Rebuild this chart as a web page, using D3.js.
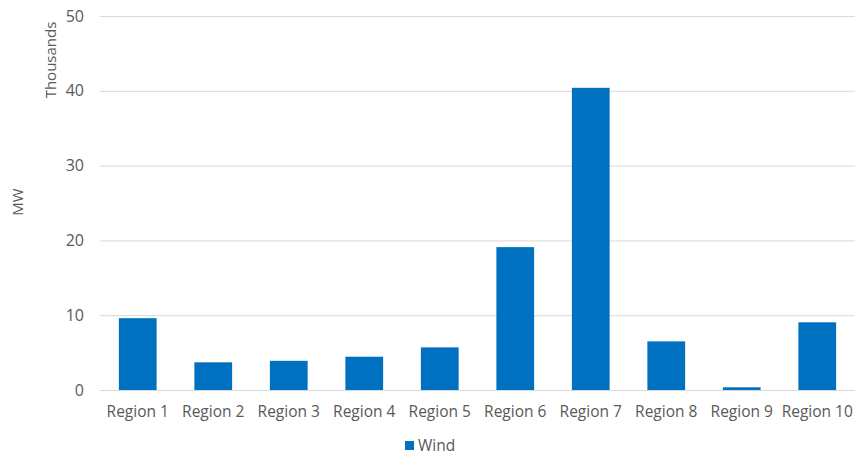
<!DOCTYPE html>
<html><head><meta charset="utf-8">
<script src="https://cdn.jsdelivr.net/npm/d3@7"></script>
<style>body{margin:0;background:#fff}svg{display:block}text{font-family:"Open Sans",sans-serif;fill:#595959}</style>
</head><body><svg id="c" width="855" height="455"></svg>
<script>
const categories = ["Region 1","Region 2","Region 3","Region 4","Region 5","Region 6","Region 7","Region 8","Region 9","Region 10"];
const windValues = [9.6, 3.7, 3.9, 4.45, 5.7, 19.1, 40.4, 6.5, 0.36, 9.05];
const yTicks = [0,10,20,30,40,50];
const seriesName = "Wind";

const svg = d3.select("#c");
const m = {left:100, right:0, top:16, bottom:65};
const W = 855, H = 455;
const x = d3.scaleBand().domain(categories).range([m.left, W - m.right]).paddingInner(0.5).paddingOuter(0.25);
const y = d3.scaleLinear().domain([0,50]).range([390, 16]);

const gy = svg.append("g").attr("transform",`translate(${m.left},0)`)
  .call(d3.axisLeft(y).tickValues(yTicks).tickSize(-(W-m.left-m.right)).tickPadding(16).tickFormat(d3.format("d")));
gy.select(".domain").remove();
gy.selectAll(".tick line").attr("stroke","#d9d9d9").attr("stroke-width",1);
gy.selectAll(".tick text").style("font-size","16px").attr("fill","#595959");

svg.append("g").selectAll("rect").data(windValues).join("rect")
  .attr("x",(d,i)=>x(categories[i]))
  .attr("width",x.bandwidth())
  .attr("y",d=>y(d))
  .attr("height",d=>y(0)-y(d))
  .attr("fill","#0070c0");

const gx = svg.append("g").attr("transform",`translate(0,390)`)
  .call(d3.axisBottom(x).tickSize(0).tickPadding(16));
gx.select(".domain").remove();
gx.selectAll(".tick text").style("font-size","15.5px").attr("fill","#595959");

svg.append("text").attr("transform","translate(56,60) rotate(-90)").attr("text-anchor","middle")
  .style("font-size","15px").text("Thousands");
svg.append("text").attr("transform","translate(23,202) rotate(-90)").attr("text-anchor","middle")
  .style("font-size","15px").text("MW");

const lg = svg.append("g").attr("transform","translate(405,441)");
lg.append("rect").attr("width",9).attr("height",9).attr("fill","#0070c0");
lg.append("text").attr("x",13).attr("y",9.5).style("font-size","15.5px").text(seriesName);
</script></body></html>
